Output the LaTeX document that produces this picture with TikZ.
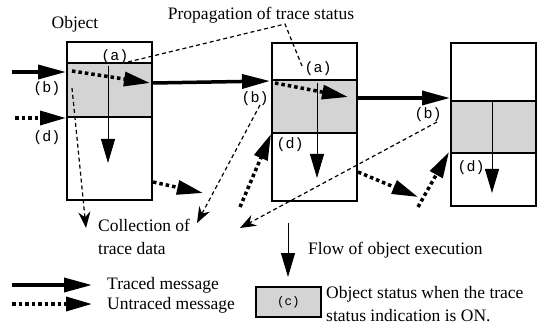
\documentclass[tikz,border=0pt]{standalone}
\usepackage{fontspec}
\setmainfont{Liberation Serif}
\setmonofont{Liberation Mono}
\usetikzlibrary{arrows.meta}

\begin{document}
\begin{tikzpicture}[x=1pt,y=-1pt,
  sect/.style={draw,line width=1.8pt,minimum width=85pt,inner sep=0pt,anchor=north west},
  shade/.style={sect,fill=black!17},
  traced/.style={line width=3.5pt,-{Triangle[length=28pt,width=14pt]}},
  untraced/.style={line width=3.5pt,dash pattern=on 3.5pt off 3pt,-{Triangle[length=26pt,width=14pt]}},
  flow/.style={line width=1pt,-{Triangle[length=24pt,width=14pt]}},
  prop/.style={line width=1.2pt,dash pattern=on 4pt off 3pt},
  collect/.style={line width=1.2pt,dash pattern=on 4pt off 3pt,-{Stealth[length=16pt,width=12pt]}},
  lbl/.style={font=\fontsize{15}{15}\selectfont\ttfamily,inner sep=0pt},
  txt/.style={font=\fontsize{17.5}{23}\selectfont,inner sep=0pt,align=left}
]
\useasboundingbox (0,0) rectangle (540,331);

% first object
\node[sect,minimum height=21pt] (o1a) at (66,41) {};
\node[shade,minimum height=54pt] (o1m) at (66,62) {};
\node[sect,minimum height=83pt] (o1b) at (66,116) {};
% second object
\node[sect,minimum height=37pt] (o2a) at (271,42) {};
\node[shade,minimum height=53pt] (o2m) at (271,79) {};
\node[sect,minimum height=68pt] (o2b) at (271,132) {};
% third object
\node[sect,minimum height=58pt] (o3a) at (450,42) {};
\node[shade,minimum height=52pt] (o3m) at (450,100) {};
\node[sect,minimum height=53pt] (o3b) at (450,152) {};

% labels
\node[txt] (objlbl) at (75,24) {Object};
\node[txt] (proplbl) at (261,15) {Propagation of trace status};
\node[txt,anchor=north west] (collbl) at (98,219) {Collection of\\trace data};
\node[txt,anchor=west] (flowlbl) at (308,250) {Flow of object execution};

\node[lbl] (a1) at (115,57) {(a)};
\node[lbl] (b1) at (47,89) {(b)};
\node[lbl] (d1) at (47,138) {(d)};
\node[lbl] (a2) at (318,69) {(a)};
\node[lbl] (b2) at (255,99) {(b)};
\node[lbl] (d2) at (290,145) {(d)};
\node[lbl] (b3) at (428,115) {(b)};
\node[lbl] (d3) at (471,168) {(d)};

% execution flow inside objects
\coordinate (f1s) at (108,66);  \coordinate (f1e) at (108,163);
\coordinate (f2s) at (317,83);  \coordinate (f2e) at (317,178);
\coordinate (f3s) at (492,100); \coordinate (f3e) at (492,193);
\draw[flow] (f1s) -- (f1e);
\draw[flow] (f2s) -- (f2e);
\draw[flow] (f3s) -- (f3e);

% traced messages
\coordinate (t1s) at (12,72);
\draw[traced] (t1s) -- (t1s -| o1m.west);
\coordinate (t2s) at (153,83); \coordinate (t2e) at (270,81);
\draw[traced] (t2s) -- (t2e);
\coordinate (t3s) at (357,98); \coordinate (t3e) at (450,98);
\draw[traced] (t3s) -- (t3e);

% untraced messages
\coordinate (u1s) at (15,118);
\draw[untraced] (u1s) -- (u1s -| o1b.west);
\coordinate (i1s) at (72,71); \coordinate (i1e) at (150,83);
\draw[untraced] (i1s) -- (i1e);
\coordinate (i2s) at (275,83); \coordinate (i2e) at (348,97);
\draw[untraced] (i2s) -- (i2e);
\coordinate (u2s) at (153,182); \coordinate (u2e) at (203,193);
\draw[untraced] (u2s) -- (u2e);
\coordinate (u3s) at (240,207); \coordinate (u3e) at (271,134);
\draw[untraced] (u3s) -- (u3e);
\coordinate (u4s) at (358,172); \coordinate (u4e) at (418,197);
\draw[untraced] (u4s) -- (u4e);
\coordinate (u5s) at (418,207); \coordinate (u5e) at (449,152);
\draw[untraced] (u5s) -- (u5e);

% propagation of trace status
\coordinate (pt) at (285,24);
\coordinate (p1) at (128,62);
\coordinate (p2) at (302,66);
\draw[prop] (p1) -- (pt) -- (p2);

% collection of trace data
\coordinate (c1s) at (72,88);   \coordinate (c1e) at (86,228);
\coordinate (c2s) at (260,105); \coordinate (c2e) at (197,223);
\coordinate (c3s) at (437,122); \coordinate (c3e) at (240,228);
\draw[collect] (c1s) -- (c1e);
\draw[collect] (c2s) -- (c2e);
\draw[collect] (c3s) -- (c3e);

% flow legend arrow
\coordinate (fls) at (288,223); \coordinate (fle) at (288,277);
\draw[flow] (fls) -- (fle);

% legend
\coordinate (lt1) at (12,285); \coordinate (lt2) at (92,285);
\draw[traced] (lt1) -- (lt2);
\node[txt,anchor=west] (ltt) at (107,285) {Traced message};
\coordinate (lu1) at (12,304); \coordinate (lu2) at (92,304);
\draw[untraced] (lu1) -- (lu2);
\node[txt,anchor=west] (lut) at (107,305) {Untraced message};

\node[shade,minimum width=65pt,minimum height=30pt,font=\fontsize{12.5}{12.5}\selectfont\ttfamily] (lc) at (255,286) {(c)};
\node[txt,anchor=west] (lct) at (326,304) {Object status when the trace\\status indication is ON.};
\end{tikzpicture}
\end{document}
